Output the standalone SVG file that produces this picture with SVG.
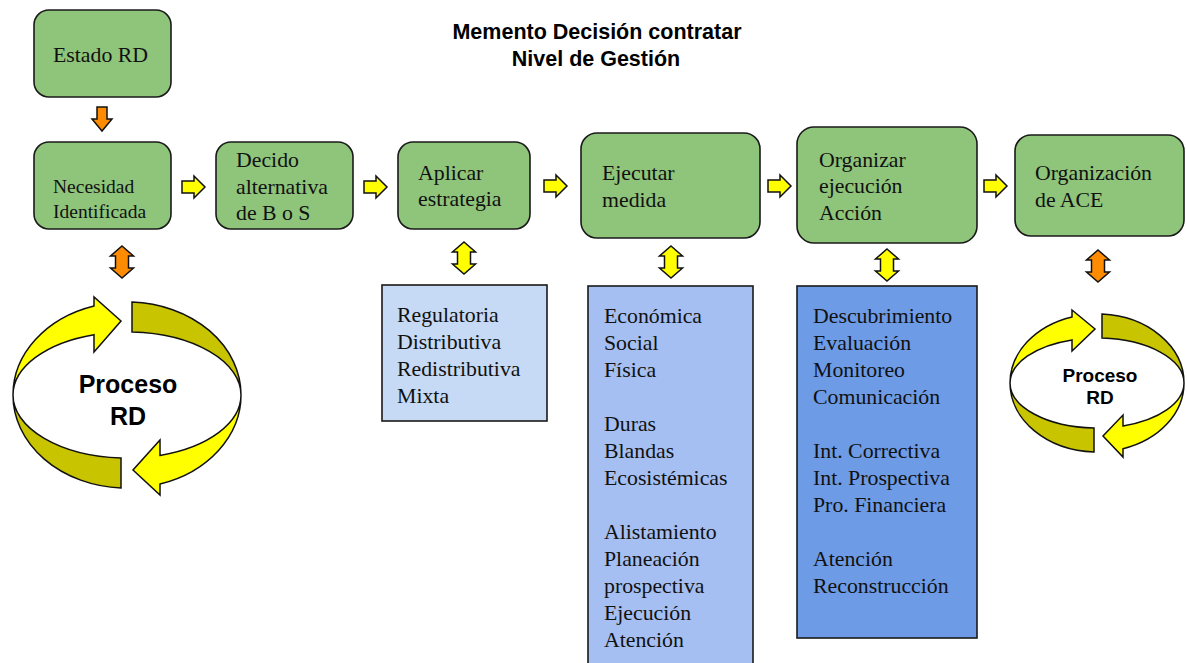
<svg xmlns="http://www.w3.org/2000/svg" width="1187" height="663" viewBox="0 0 1187 663">
  <style>
    .step { fill: #8fc47b; stroke: #1a1a1a; stroke-width: 1.6; }
    .lst { stroke: #1a1a1a; stroke-width: 1.6; }
    .t { font-family: "Liberation Serif", "Times New Roman", serif; font-size: 21.8px; fill: #111; }
    .ts { font-family: "Liberation Serif", "Times New Roman", serif; font-size: 19.5px; fill: #111; }
    .title { font-family: "Liberation Sans", Arial, sans-serif; font-weight: bold; font-size: 21.5px; fill: #000; text-anchor: middle; }
    .cyc { font-family: "Liberation Sans", Arial, sans-serif; font-weight: bold; fill: #000; text-anchor: middle; }
    .ya { fill: #ffff00; stroke: #111; stroke-width: 1.5; stroke-linejoin: miter; }
    .oa { fill: #ff8c00; stroke: #111; stroke-width: 1.5; }
    .front { fill: #ffff00; stroke: #111; stroke-width: 1.5; }
    .back { fill: #c8c400; stroke: #111; stroke-width: 1.5; }
  </style>
  <defs>
    <!-- block arrow pointing right, origin at tail centre -->
    <path id="arR" d="M0,-6 L12,-6 L12,-11 L23,0 L12,11 L12,6 L0,6 Z"/>
    <!-- block arrow pointing down, origin at top centre -->
    <path id="arD" d="M-5,0 L5,0 L5,12 L10,12 L0,24 L-10,12 L-5,12 Z"/>
    <!-- double-headed vertical block arrow, origin at centre -->
    <path id="arUD" d="M0,-16 L11.5,-6 L6.5,-6 L6.5,6 L11.5,6 L0,16 L-11.5,6 L-6.5,6 L-6.5,-6 L-11.5,-6 Z"/>
  </defs>

  <rect width="1187" height="663" fill="#ffffff"/>

  <g id="title">
    <text class="title" x="597" y="39">Memento Decisión contratar</text>
    <text class="title" x="596" y="66">Nivel de Gestión</text>
  </g>

  <g id="estado-rd">
    <rect class="step" x="34" y="10" width="137" height="87" rx="15"/>
    <text class="t" x="53" y="62">Estado RD</text>
  </g>

  <g id="necesidad">
    <rect class="step" x="34" y="142" width="137" height="87" rx="15"/>
    <text class="ts" x="53" y="193">Necesidad</text>
    <text class="ts" x="53" y="218">Identificada</text>
  </g>

  <g id="decido">
    <rect class="step" x="216" y="142" width="137" height="87" rx="15"/>
    <text class="t" x="236" y="167">Decido</text>
    <text class="t" x="236" y="194">alternativa</text>
    <text class="t" x="236" y="220">de B o S</text>
  </g>

  <g id="aplicar">
    <rect class="step" x="398" y="142" width="132" height="87" rx="15"/>
    <text class="t" x="418" y="180">Aplicar</text>
    <text class="t" x="418" y="206">estrategia</text>
  </g>

  <g id="ejecutar">
    <rect class="step" x="581" y="133" width="179" height="105" rx="16"/>
    <text class="t" x="602" y="180">Ejecutar</text>
    <text class="t" x="602" y="207">medida</text>
  </g>

  <g id="organizar">
    <rect class="step" x="797" y="127" width="180" height="116" rx="17"/>
    <text class="t" x="819" y="167">Organizar</text>
    <text class="t" x="819" y="193">ejecución</text>
    <text class="t" x="819" y="220">Acción</text>
  </g>

  <g id="organizacion-ace">
    <rect class="step" x="1015" y="135" width="169" height="101" rx="16"/>
    <text class="t" x="1035" y="180">Organización</text>
    <text class="t" x="1035" y="207">de ACE</text>
  </g>

  <g id="estrategias">
    <rect class="lst" x="382" y="285" width="165" height="136" fill="#c6d9f5"/>
    <text class="t" x="397" y="322">Regulatoria</text>
    <text class="t" x="397" y="349">Distributiva</text>
    <text class="t" x="397" y="376">Redistributiva</text>
    <text class="t" x="397" y="403">Mixta</text>
  </g>

  <g id="medidas">
    <rect class="lst" x="588" y="286" width="165" height="390" fill="#a5bff2"/>
    <text class="t" x="604" y="323">Económica</text>
    <text class="t" x="604" y="350">Social</text>
    <text class="t" x="604" y="377">Física</text>
    <text class="t" x="604" y="431">Duras</text>
    <text class="t" x="604" y="458">Blandas</text>
    <text class="t" x="604" y="485">Ecosistémicas</text>
    <text class="t" x="604" y="539">Alistamiento</text>
    <text class="t" x="604" y="566">Planeación</text>
    <text class="t" x="604" y="593">prospectiva</text>
    <text class="t" x="604" y="620">Ejecución</text>
    <text class="t" x="604" y="647">Atención</text>
  </g>

  <g id="acciones">
    <rect class="lst" x="797" y="286" width="180" height="352" fill="#6e9be6"/>
    <text class="t" x="813" y="323">Descubrimiento</text>
    <text class="t" x="813" y="350">Evaluación</text>
    <text class="t" x="813" y="377">Monitoreo</text>
    <text class="t" x="813" y="404">Comunicación</text>
    <text class="t" x="813" y="458">Int. Correctiva</text>
    <text class="t" x="813" y="485">Int. Prospectiva</text>
    <text class="t" x="813" y="512">Pro. Financiera</text>
    <text class="t" x="813" y="566">Atención</text>
    <text class="t" x="813" y="593">Reconstrucción</text>
  </g>

  <!-- large cyclic arrows: two front (bright) arrows and two back (dark) ribbon parts -->
  <g id="proceso-rd-1">
    <path class="back" d="M132,302 A114,93 0 0 1 241,395 A114,63 0 0 0 132,332 Z"/>
    <path class="back" d="M13,395 A114,63 0 0 0 121,458 L121,488 A114,93 0 0 1 13,395 Z"/>
    <path class="front" d="M13,395 A114,93 0 0 1 94,306 L94,297 L121,321 L94,352 L94,334.7 A114,63 0 0 0 13,395 Z"/>
    <path class="front" d="M241,395 A114,93 0 0 1 160,484 L160,495 L133,470 L160,440 L160,455.4 A114,63 0 0 0 241,395 Z"/>
    <text class="cyc" x="128" y="393" font-size="25">Proceso</text>
    <text class="cyc" x="128" y="425" font-size="25">RD</text>
  </g>

  <g id="proceso-rd-2">
    <path class="back" d="M1102,314.1 A87,69 0 0 1 1184,383 A87,45 0 0 0 1102,338.1 Z"/>
    <path class="back" d="M1010,383 A87,45 0 0 0 1094,427.9 L1094,451.9 A87,69 0 0 1 1010,383 Z"/>
    <path class="front" d="M1010,383 A87,69 0 0 1 1072,316.9 L1072,310 L1095,329 L1072,351 L1072,339.9 A87,45 0 0 0 1010,383 Z"/>
    <path class="front" d="M1184,383 A87,69 0 0 1 1123,448.8 L1123,457 L1103,436 L1123,415 L1123,425.9 A87,45 0 0 0 1184,383 Z"/>
    <text class="cyc" x="1100" y="382" font-size="19">Proceso</text>
    <text class="cyc" x="1100" y="404" font-size="19">RD</text>
  </g>

  <g id="connectors">
    <use href="#arD" class="oa" x="102" y="107"/>
    <use href="#arR" class="ya" x="182" y="187"/>
    <use href="#arR" class="ya" x="364" y="187"/>
    <use href="#arR" class="ya" x="544" y="186"/>
    <use href="#arR" class="ya" x="768" y="186"/>
    <use href="#arR" class="ya" x="984" y="186"/>
    <use href="#arUD" class="oa" x="122" y="262"/>
    <use href="#arUD" class="ya" x="464" y="258"/>
    <use href="#arUD" class="ya" x="671" y="262"/>
    <use href="#arUD" class="ya" x="887" y="265"/>
    <use href="#arUD" class="oa" x="1098" y="266"/>
  </g>
</svg>
